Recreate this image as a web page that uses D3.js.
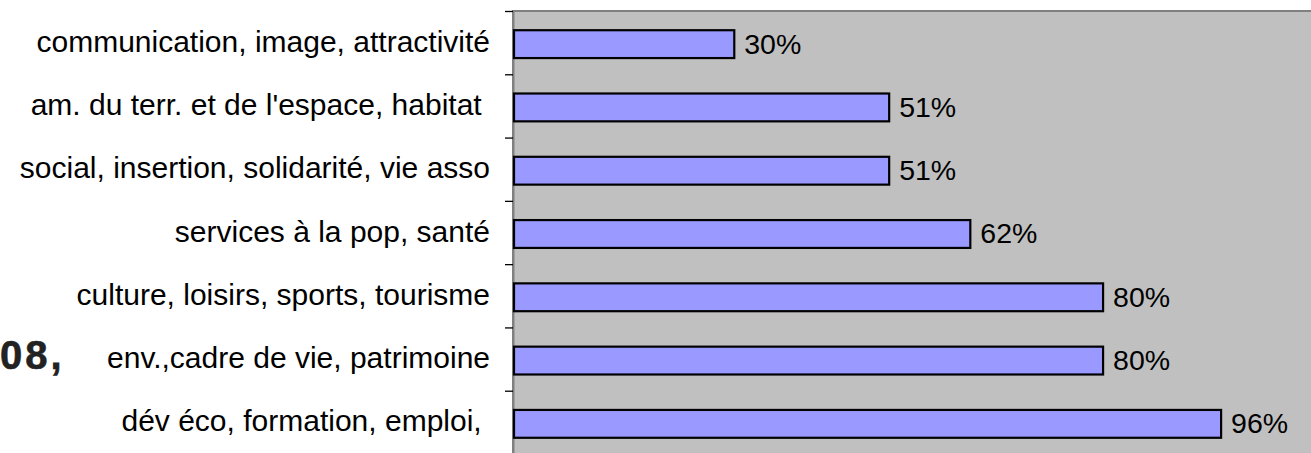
<!DOCTYPE html>
<html>
<head>
<meta charset="utf-8">
<script src="https://cdn.jsdelivr.net/npm/d3@7"></script>
<style>
  html, body { margin: 0; padding: 0; background: #fff; overflow: hidden; }
  svg { display: block; font-family: "Liberation Sans", Arial, sans-serif; }
</style>
</head>
<body>
<svg id="bar-svg" width="1311" height="453"></svg>
<script>
// categories top to bottom, values in percent
const categories = [
    "communication, image, attractivité",
    "am. du terr. et de l'espace, habitat ",
    "social, insertion, solidarité, vie asso",
    "services à la pop, santé",
    "culture, loisirs, sports, tourisme",
    "env.,cadre de vie, patrimoine",
    "dév éco, formation, emploi, "
];
const values = [30, 51, 51, 62, 80, 80, 96];
const sideText = "08,";

const plot = { left: 513, top: 11, bottom: 454, right: 1320 };

const svg = d3.select('#bar-svg');

const xScale = d3.scaleLinear()
    .domain([0, 100])
    .range([plot.left, 1250.6]);

const yScale = d3.scaleBand()
    .domain(categories)
    .range([plot.top, plot.bottom])
    .paddingInner(0.56)
    .paddingOuter(0.28);

// tick positions sit on the category boundaries
const tickScale = d3.scaleLinear()
    .domain([0, categories.length])
    .range([plot.top, plot.bottom]);

// plot background
svg.append('rect')
    .attr('x', plot.left)
    .attr('y', plot.top)
    .attr('width', plot.right - plot.left)
    .attr('height', plot.bottom - plot.top)
    .attr('fill', '#c0c0c0')
    .attr('stroke', '#808080')
    .attr('stroke-width', 2);

// left axis with boundary ticks
const axis = svg.append('g')
    .attr('transform', `translate(${plot.left}, 0)`)
    .call(d3.axisLeft(tickScale)
        .tickValues(d3.range(categories.length + 1))
        .tickFormat('')
        .tickSizeInner(8)
        .tickSizeOuter(0));
axis.select('.domain').attr('stroke', '#808080').attr('stroke-width', 2);
axis.selectAll('.tick line').attr('stroke', '#000').attr('stroke-width', 1.3);

// bars
const bars = svg.append('g').attr('transform', 'translate(0, 1.5)');
bars.selectAll('rect')
    .data(categories)
    .join('rect')
    .attr('x', xScale(0) + 1)
    .attr('y', d => yScale(d))
    .attr('width', (d, i) => xScale(values[i]) - xScale(0) - 1)
    .attr('height', yScale.bandwidth())
    .attr('fill', '#9999ff')
    .attr('stroke', '#000')
    .attr('stroke-width', 2.2);

// value labels
bars.selectAll('text')
    .data(categories)
    .join('text')
    .attr('x', (d, i) => xScale(values[i]) + 10)
    .attr('y', d => yScale(d) + yScale.bandwidth() / 2)
    .attr('dy', '0.33em')
    .style('font-size', '28.5px')
    .style('fill', '#000')
    .text((d, i) => values[i] + '%');

// category labels
svg.append('g')
    .selectAll('text')
    .data(categories)
    .join('text')
    .attr('x', 490)
    .attr('y', d => yScale(d) + yScale.bandwidth() / 2)
    .attr('dy', '0.3em')
    .attr('text-anchor', 'end')
    .attr('xml:space', 'preserve')
    .style('white-space', 'pre')
    .style('font-size', '30px')
    .style('fill', '#000')
    .text(d => d);

// piece of a title at the left edge
svg.append('text')
    .attr('x', 0)
    .attr('y', 369)
    .attr('font-family', '"Liberation Sans", Arial, sans-serif')
    .attr('font-size', 40)
    .attr('font-weight', 'bold')
    .attr('letter-spacing', 3)
    .attr('fill', '#222')
    .attr('stroke', '#222')
    .attr('stroke-width', 0.6)
    .text(sideText);
</script>
</body>
</html>
